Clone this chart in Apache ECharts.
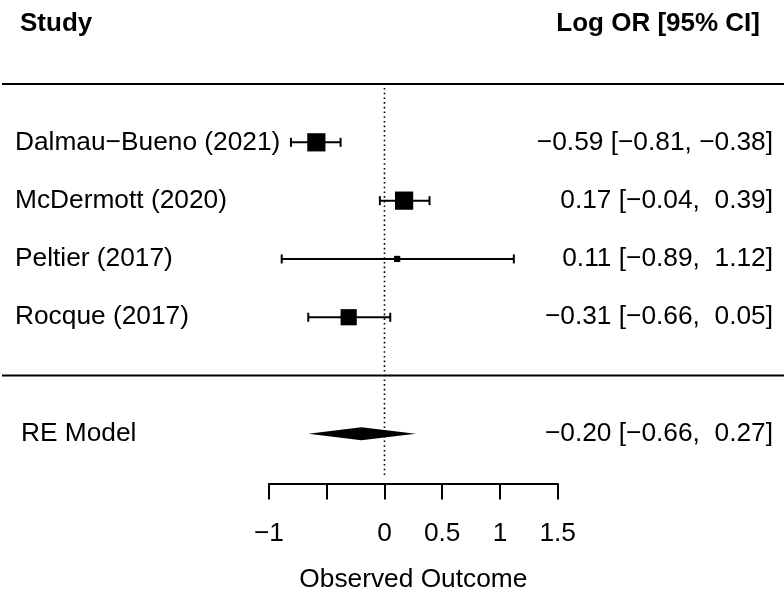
<!DOCTYPE html>
<html>
<head>
<meta charset="utf-8">
<script src="https://cdn.jsdelivr.net/npm/echarts@6/dist/echarts.min.js"></script>
<style>
  html, body { margin: 0; padding: 0; background: #fff; }
  #chart { width: 784px; height: 594px; }
</style>
</head>
<body>
<div id="chart"></div>
<script>
// 数据
var studies = ['Dalmau−Bueno (2021)', 'McDermott (2020)', 'Peltier (2017)', 'Rocque (2017)'];
var estimates = [-0.59, 0.17, 0.11, -0.31];
var ciLower = [-0.81, -0.04, -0.89, -0.66];
var ciUpper = [-0.38, 0.39, 1.12, 0.05];
var weights = [30.0, 30.0, 12.8, 27.1]; // RE 权重 (%)
var reLabel = 'RE Model';
var reValues = [-0.20, -0.66, 0.27]; // 估计值, 下限, 上限
var headers = ['Study', 'Log OR [95% CI]'];
var xTicks = [-1, -0.5, 0, 0.5, 1, 1.5];
var xTickLabels = ['−1', '', '0', '0.5', '1', '1.5'];
var xTitle = 'Observed Outcome';

var FONT = '"Liberation Sans", Arial, Helvetica, sans-serif';
var FS = 26.3;
var k = studies.length;
var wMin = Math.min.apply(null, weights);
var wMax = Math.max.apply(null, weights);

function fmt(v) {
  return v.toFixed(2).replace('-', '−');
}
function ciText(est, lo, hi) {
  return fmt(est) + ' [' + fmt(lo) + ', ' + (hi >= 0 ? ' ' : '') + fmt(hi) + ']';
}
function txt(text, x, y, align, bold) {
  return {
    type: 'text',
    style: {
      text: text, x: x, y: y, fill: '#000',
      fontSize: bold ? 26 : FS, fontFamily: FONT, fontWeight: bold ? 'bold' : 'normal',
      align: align, verticalAlign: 'middle'
    }
  };
}

var stroke = { stroke: '#000', lineWidth: 2 };

// 每个研究一行
function renderStudy(params, api) {
  var i = params.dataIndex;
  var row = api.value(0);
  var pEst = api.coord([api.value(1), row]);
  var pLo = api.coord([api.value(2), row]);
  var pHi = api.coord([api.value(3), row]);
  var y = pEst[1];
  var size = 6.2 + (weights[i] - wMin) / (wMax - wMin) * 12;
  return {
    type: 'group',
    children: [
      { type: 'line', shape: { x1: pLo[0], y1: y, x2: pHi[0], y2: y }, style: stroke },
      { type: 'line', shape: { x1: pLo[0], y1: y - 4.5, x2: pLo[0], y2: y + 4.5 }, style: stroke },
      { type: 'line', shape: { x1: pHi[0], y1: y - 4.5, x2: pHi[0], y2: y + 4.5 }, style: stroke },
      { type: 'rect', shape: { x: pEst[0] - size / 2, y: y - size / 2, width: size, height: size }, style: { fill: '#000' } },
      txt(studies[i], 15, y, 'left', false),
      txt(ciText(api.value(1), api.value(2), api.value(3)), 773, y, 'right', false)
    ]
  };
}

// RE 模型菱形
function renderRE(params, api) {
  var row = api.value(0);
  var pEst = api.coord([api.value(1), row]);
  var pLo = api.coord([api.value(2), row]);
  var pHi = api.coord([api.value(3), row]);
  var y = pEst[1];
  var h = 6.5;
  return {
    type: 'group',
    children: [
      { type: 'polygon', shape: { points: [[pLo[0], y], [pEst[0], y - h], [pHi[0], y], [pEst[0], y + h]] }, style: { fill: '#000' } },
      txt(reLabel, 21, y, 'left', false),
      txt(ciText(api.value(1), api.value(2), api.value(3)), 773, y, 'right', false)
    ]
  };
}

// 表头、分隔线、参考线
function renderFrame(params, api) {
  var w = api.getWidth();
  var yHead = api.coord([0, k + 2])[1] - 2;
  var yTop = api.coord([0, k + 1])[1];
  var yBot = api.coord([0, 0])[1];
  var ref0 = api.coord([0, k + 1]);
  var ref1 = api.coord([0, -1.74]);
  return {
    type: 'group',
    children: [
      txt(headers[0], 20, yHead, 'left', true),
      txt(headers[1], 760, yHead, 'right', true),
      { type: 'line', shape: { x1: 2, y1: yTop, x2: w, y2: yTop }, style: stroke },
      { type: 'line', shape: { x1: 2, y1: yBot, x2: w, y2: yBot }, style: stroke },
      { type: 'line', shape: { x1: ref0[0], y1: ref0[1] + 4, x2: ref1[0], y2: ref1[1] },
        style: { stroke: '#000', lineWidth: 1.6, lineDash: [1.6, 3.1] } }
    ]
  };
}

var chart = echarts.init(document.getElementById('chart'));
chart.setOption({
  animation: false,
  backgroundColor: '#fff',
  grid: { left: 269, right: 226.3, top: 2.4, bottom: 110.6, outerBoundsMode: 'none', containLabel: false },
  xAxis: {
    type: 'value',
    min: -1,
    max: 1.5,
    interval: 0.5,
    name: xTitle,
    nameLocation: 'middle',
    nameGap: 83,
    nameTextStyle: { color: '#000', fontSize: FS, fontFamily: FONT },
    axisLine: { show: true, onZero: false, lineStyle: { color: '#000', width: 2 } },
    axisTick: { show: true, length: 16, lineStyle: { color: '#000', width: 2 } },
    axisLabel: {
      margin: 37,
      color: '#000',
      fontSize: FS,
      fontFamily: FONT,
      formatter: function (v) {
        var idx = xTicks.findIndex(function (t) { return Math.abs(t - v) < 1e-9; });
        return idx >= 0 ? xTickLabels[idx] : '';
      }
    },
    splitLine: { show: false }
  },
  yAxis: {
    type: 'value',
    min: -1.85,
    max: 6.4,
    show: false,
    splitLine: { show: false }
  },
  series: [
    {
      type: 'custom',
      clip: false,
      renderItem: renderFrame,
      encode: { x: 0, y: 1 },
      data: [[0, 0]]
    },
    {
      type: 'custom',
      clip: false,
      renderItem: renderStudy,
      encode: { x: 1, y: 0 },
      data: studies.map(function (s, i) {
        return [k - i, estimates[i], ciLower[i], ciUpper[i]];
      })
    },
    {
      type: 'custom',
      clip: false,
      renderItem: renderRE,
      encode: { x: 1, y: 0 },
      data: [[-1, reValues[0], reValues[1], reValues[2]]]
    }
  ]
});
</script>
</body>
</html>
